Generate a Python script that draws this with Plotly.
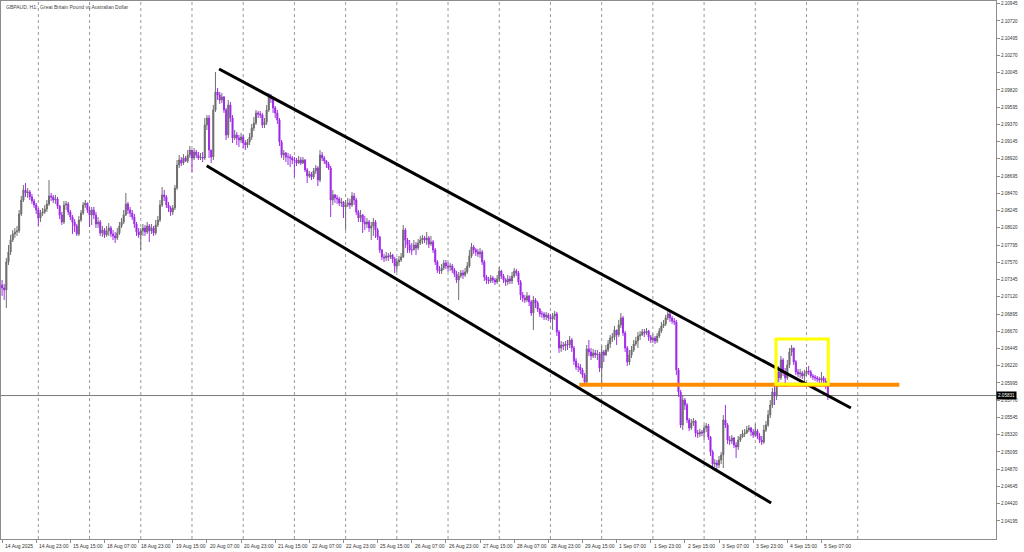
import plotly.graph_objects as go

# ---------------- data (GBPAUD H1) ----------------
first_open = 2.07274

closes = [
    2.07235, 2.07209, 2.07574, 2.07705, 2.07861, 2.07940, 2.07966, 2.07979, 2.08201, 2.08383,
    2.08514, 2.08475, 2.08488, 2.08423, 2.08370, 2.08318, 2.08253, 2.08148, 2.08214, 2.08227,
    2.08266, 2.08331, 2.08436, 2.08423, 2.08383, 2.08397, 2.08305, 2.08188, 2.08096, 2.08318,
    2.08331, 2.08227, 2.08161, 2.08096, 2.08044, 2.07940, 2.08122, 2.08214, 2.08318, 2.08344,
    2.08253, 2.08188, 2.08253, 2.08188, 2.08070, 2.08096, 2.07953, 2.07992, 2.07927, 2.07979,
    2.08018, 2.07940, 2.07914, 2.07888, 2.07953, 2.08044, 2.08096, 2.08188, 2.08331, 2.08253,
    2.08214, 2.08161, 2.08070, 2.07966, 2.07927, 2.07979, 2.08018, 2.07966, 2.08044, 2.07979,
    2.08018, 2.07953, 2.08057, 2.08122, 2.08318, 2.08449, 2.08423, 2.08318, 2.08279, 2.08227,
    2.08279, 2.08540, 2.08840, 2.08905, 2.08866, 2.08931, 2.08892, 2.08970, 2.09036, 2.08931,
    2.09010, 2.08970, 2.08931, 2.08944, 2.08931, 2.09362, 2.09453, 2.09036, 2.08944, 2.09558,
    2.09793, 2.09753, 2.09688, 2.09727, 2.09558, 2.09232, 2.09623, 2.09453, 2.09192, 2.09232,
    2.09192, 2.09166, 2.09205, 2.09127, 2.09101, 2.09140, 2.09205, 2.09323, 2.09388, 2.09519,
    2.09506, 2.09493, 2.09362, 2.09401, 2.09558, 2.09727, 2.09701, 2.09584, 2.09519, 2.09427,
    2.09140, 2.08970, 2.08997, 2.08944, 2.08944, 2.08931, 2.08905, 2.08905, 2.08866, 2.08905,
    2.08866, 2.08905, 2.08775, 2.08697, 2.08723, 2.08684, 2.08762, 2.08801, 2.08644, 2.08970,
    2.08931, 2.08892, 2.08853, 2.08801, 2.08383, 2.08449, 2.08410, 2.08397, 2.08344, 2.08357,
    2.08292, 2.08318, 2.08344, 2.08318, 2.08436, 2.08383, 2.08227, 2.08148, 2.08188, 2.08096,
    2.08070, 2.08096, 2.08018, 2.08044, 2.08096, 2.07992, 2.07901, 2.07731, 2.07640, 2.07627,
    2.07653, 2.07640, 2.07666, 2.07614, 2.07522, 2.07574, 2.07600, 2.07640, 2.07992, 2.07861,
    2.07796, 2.07731, 2.07731, 2.07796, 2.07757, 2.07822, 2.07861, 2.07888, 2.07861, 2.07888,
    2.07809, 2.07835, 2.07731, 2.07574, 2.07470, 2.07457, 2.07496, 2.07561, 2.07522, 2.07509,
    2.07522, 2.07470, 2.07418, 2.07339, 2.07392, 2.07431, 2.07405, 2.07444, 2.07522, 2.07653,
    2.07770, 2.07731, 2.07705, 2.07679, 2.07705, 2.07574, 2.07379, 2.07339, 2.07326, 2.07366,
    2.07339, 2.07313, 2.07353, 2.07457, 2.07392, 2.07339, 2.07313, 2.07353, 2.07326, 2.07392,
    2.07457, 2.07431, 2.07313, 2.07144, 2.07104, 2.07078, 2.07131, 2.07052, 2.06909, 2.07078,
    2.07039, 2.06961, 2.06896, 2.06896, 2.06857, 2.06883, 2.06844, 2.06830, 2.06870, 2.06896,
    2.06661, 2.06452, 2.06491, 2.06478, 2.06504, 2.06491, 2.06556, 2.06452, 2.06282, 2.06204,
    2.06204, 2.06165, 2.06100, 2.06008, 2.06439, 2.06400, 2.06348, 2.06387, 2.06361, 2.06374,
    2.06191, 2.06400, 2.06361, 2.06426, 2.06504, 2.06582, 2.06596, 2.06687, 2.06622, 2.06752,
    2.06844, 2.06648, 2.06452, 2.06269, 2.06361, 2.06426, 2.06504, 2.06543, 2.06609, 2.06622,
    2.06661, 2.06648, 2.06674, 2.06596, 2.06556, 2.06582, 2.06543, 2.06609, 2.06674, 2.06739,
    2.06765, 2.06844, 2.06896, 2.06844, 2.06804, 2.06791, 2.06165, 2.05878, 2.05447, 2.05773,
    2.05708, 2.05512, 2.05408, 2.05473, 2.05499, 2.05343, 2.05330, 2.05356, 2.05343, 2.05408,
    2.05434, 2.05290, 2.05095, 2.04938, 2.04951, 2.04925, 2.04990, 2.05056, 2.05512, 2.05447,
    2.05251, 2.05238, 2.05277, 2.05186, 2.05160, 2.05251, 2.05290, 2.05330, 2.05343, 2.05382,
    2.05408, 2.05356, 2.05317, 2.05369, 2.05303, 2.05251, 2.05225, 2.05382, 2.05447, 2.05577,
    2.05708, 2.05878, 2.05826, 2.06139, 2.06061, 2.06295, 2.06139, 2.06061, 2.06230, 2.06400,
    2.06452, 2.06269, 2.06139, 2.06113, 2.06126, 2.06087, 2.06113, 2.06152, 2.06139, 2.06087,
    2.06074, 2.06061, 2.06048, 2.06034, 2.06061, 2.06021, 2.05969, 2.05831,
]

highs = [
    2.07339, 2.07287, 2.07627, 2.07796, 2.07927, 2.07992, 2.08018, 2.08044, 2.08253, 2.08436,
    2.08579, 2.08605, 2.08540, 2.08514, 2.08462, 2.08397, 2.08344, 2.08279, 2.08253, 2.08279,
    2.08318, 2.08383, 2.08644, 2.08475, 2.08449, 2.08449, 2.08423, 2.08318, 2.08227, 2.08370,
    2.08370, 2.08357, 2.08253, 2.08188, 2.08135, 2.08070, 2.08175, 2.08253, 2.08357, 2.08383,
    2.08344, 2.08292, 2.08292, 2.08292, 2.08227, 2.08161, 2.08122, 2.08044, 2.08018, 2.08044,
    2.08083, 2.08044, 2.07992, 2.07966, 2.08018, 2.08096, 2.08148, 2.08253, 2.08475, 2.08357,
    2.08292, 2.08253, 2.08201, 2.08096, 2.08018, 2.08018, 2.08070, 2.08057, 2.08096, 2.08070,
    2.08070, 2.08044, 2.08122, 2.08175, 2.08383, 2.08553, 2.08514, 2.08449, 2.08357, 2.08305,
    2.08318, 2.08579, 2.08905, 2.08970, 2.08944, 2.08983, 2.08957, 2.09036, 2.09088, 2.09036,
    2.09062, 2.09036, 2.09010, 2.08997, 2.09010, 2.09453, 2.09492, 2.09492, 2.09036, 2.09623,
    2.10054, 2.09845, 2.09793, 2.09780, 2.09740, 2.09584, 2.09688, 2.09662, 2.09492, 2.09297,
    2.09271, 2.09232, 2.09258, 2.09232, 2.09166, 2.09179, 2.09258, 2.09375, 2.09466, 2.09558,
    2.09545, 2.09545, 2.09519, 2.09453, 2.09623, 2.09780, 2.09766, 2.09714, 2.09610, 2.09558,
    2.09453, 2.09166, 2.09036, 2.09010, 2.08997, 2.08983, 2.08957, 2.08944, 2.08931, 2.08957,
    2.08944, 2.08944, 2.08918, 2.08801, 2.08762, 2.08749, 2.08801, 2.08840, 2.08827, 2.09036,
    2.09010, 2.08957, 2.08905, 2.08879, 2.08827, 2.08514, 2.08462, 2.08449, 2.08423, 2.08410,
    2.08370, 2.08383, 2.08410, 2.08397, 2.08488, 2.08475, 2.08410, 2.08253, 2.08253, 2.08201,
    2.08175, 2.08148, 2.08122, 2.08096, 2.08148, 2.08122, 2.08018, 2.07914, 2.07744, 2.07679,
    2.07705, 2.07692, 2.07705, 2.07679, 2.07640, 2.07627, 2.07653, 2.07692, 2.08057, 2.08018,
    2.07888, 2.07861, 2.07822, 2.07861, 2.07835, 2.07874, 2.07914, 2.07927, 2.07914, 2.07966,
    2.07914, 2.07914, 2.07861, 2.07757, 2.07600, 2.07522, 2.07548, 2.07600, 2.07600, 2.07574,
    2.07561, 2.07548, 2.07496, 2.07457, 2.07444, 2.07470, 2.07470, 2.07496, 2.07574, 2.07731,
    2.07822, 2.07796, 2.07757, 2.07744, 2.07757, 2.07731, 2.07600, 2.07405, 2.07379, 2.07405,
    2.07392, 2.07366, 2.07405, 2.07509, 2.07470, 2.07418, 2.07366, 2.07405, 2.07392, 2.07444,
    2.07496, 2.07483, 2.07457, 2.07339, 2.07183, 2.07144, 2.07183, 2.07144, 2.07078, 2.07131,
    2.07104, 2.07065, 2.06974, 2.06935, 2.06922, 2.06922, 2.06909, 2.06896, 2.06909, 2.06935,
    2.06922, 2.06687, 2.06543, 2.06530, 2.06543, 2.06556, 2.06609, 2.06582, 2.06478, 2.06321,
    2.06256, 2.06243, 2.06191, 2.06126, 2.06491, 2.06556, 2.06452, 2.06439, 2.06426, 2.06426,
    2.06400, 2.06478, 2.06426, 2.06491, 2.06556, 2.06622, 2.06648, 2.06739, 2.06687, 2.06817,
    2.06909, 2.06870, 2.06674, 2.06478, 2.06426, 2.06478, 2.06556, 2.06596, 2.06661, 2.06674,
    2.06700, 2.06700, 2.06713, 2.06687, 2.06622, 2.06635, 2.06609, 2.06648, 2.06713, 2.06791,
    2.06817, 2.06883, 2.06935, 2.06922, 2.06870, 2.06844, 2.06817, 2.06191, 2.05904, 2.05839,
    2.05799, 2.05734, 2.05538, 2.05525, 2.05538, 2.05512, 2.05382, 2.05395, 2.05382, 2.05447,
    2.05473, 2.05460, 2.05303, 2.05121, 2.05003, 2.04990, 2.05043, 2.05095, 2.05577, 2.05708,
    2.05473, 2.05303, 2.05316, 2.05290, 2.05225, 2.05303, 2.05330, 2.05382, 2.05395, 2.05434,
    2.05447, 2.05421, 2.05395, 2.05460, 2.05395, 2.05343, 2.05303, 2.05447, 2.05499, 2.05643,
    2.05773, 2.05930, 2.05969, 2.06191, 2.06217, 2.06348, 2.06321, 2.06191, 2.06295, 2.06452,
    2.06491, 2.06426, 2.06295, 2.06178, 2.06178, 2.06152, 2.06165, 2.06204, 2.06217, 2.06165,
    2.06113, 2.06100, 2.06087, 2.06074, 2.06139, 2.06087, 2.06061, 2.05995,
]

lows = [
    2.07131, 2.07078, 2.06974, 2.07535, 2.07666, 2.07835, 2.07888, 2.07914, 2.07953, 2.08175,
    2.08357, 2.08423, 2.08410, 2.08383, 2.08331, 2.08279, 2.08201, 2.08044, 2.08096, 2.08175,
    2.08201, 2.08227, 2.08305, 2.08370, 2.08344, 2.08331, 2.08266, 2.08135, 2.08057, 2.08070,
    2.08253, 2.08188, 2.08122, 2.07940, 2.07966, 2.07914, 2.07914, 2.08096, 2.08188, 2.08279,
    2.08214, 2.08031, 2.08057, 2.08135, 2.08018, 2.08018, 2.07914, 2.07901, 2.07888, 2.07901,
    2.07914, 2.07901, 2.07861, 2.07822, 2.07861, 2.07927, 2.08018, 2.08070, 2.08175, 2.08201,
    2.08161, 2.08122, 2.08018, 2.07914, 2.07888, 2.07731, 2.07914, 2.07914, 2.07940, 2.07835,
    2.07940, 2.07914, 2.07927, 2.08031, 2.08096, 2.08292, 2.08370, 2.08279, 2.08227, 2.08175,
    2.08188, 2.08253, 2.08514, 2.08801, 2.08827, 2.08840, 2.08879, 2.08866, 2.08931, 2.08749,
    2.08905, 2.08931, 2.08905, 2.08905, 2.08879, 2.08905, 2.09297, 2.08931, 2.08866, 2.08905,
    2.09532, 2.09688, 2.09636, 2.09649, 2.09519, 2.09166, 2.09192, 2.09401, 2.09127, 2.09166,
    2.09101, 2.09075, 2.09127, 2.09062, 2.09036, 2.09062, 2.09101, 2.09166, 2.09284, 2.09362,
    2.09453, 2.09453, 2.09323, 2.09323, 2.09362, 2.09532, 2.09649, 2.09519, 2.09453, 2.09375,
    2.09088, 2.08931, 2.08905, 2.08879, 2.08840, 2.08814, 2.08853, 2.08683, 2.08827, 2.08853,
    2.08840, 2.08853, 2.08749, 2.08605, 2.08670, 2.08644, 2.08657, 2.08723, 2.08566, 2.08618,
    2.08892, 2.08853, 2.08801, 2.08775, 2.08161, 2.08318, 2.08344, 2.08331, 2.08305, 2.08292,
    2.08148, 2.07992, 2.08292, 2.08266, 2.08292, 2.08318, 2.08188, 2.08096, 2.08096, 2.07953,
    2.07992, 2.08018, 2.07966, 2.07861, 2.07914, 2.07888, 2.07861, 2.07692, 2.07600, 2.07574,
    2.07587, 2.07587, 2.07614, 2.07561, 2.07431, 2.07444, 2.07522, 2.07574, 2.07627, 2.07757,
    2.07692, 2.07692, 2.07666, 2.07731, 2.07666, 2.07731, 2.07796, 2.07809, 2.07822, 2.07796,
    2.07757, 2.07783, 2.07692, 2.07535, 2.07431, 2.07418, 2.07418, 2.07470, 2.07483, 2.07444,
    2.07457, 2.07431, 2.07379, 2.07300, 2.07078, 2.07366, 2.07353, 2.07379, 2.07418, 2.07496,
    2.07627, 2.07679, 2.07653, 2.07640, 2.07627, 2.07535, 2.07326, 2.07287, 2.07287, 2.07300,
    2.07300, 2.07274, 2.07287, 2.07313, 2.07353, 2.07300, 2.07261, 2.07274, 2.07287, 2.07287,
    2.07366, 2.07392, 2.07274, 2.07078, 2.07052, 2.07039, 2.07052, 2.07000, 2.06870, 2.06687,
    2.06974, 2.06922, 2.06857, 2.06844, 2.06817, 2.06817, 2.06804, 2.06791, 2.06687, 2.06817,
    2.06609, 2.06387, 2.06400, 2.06426, 2.06413, 2.06426, 2.06452, 2.06400, 2.06230, 2.06165,
    2.06139, 2.06113, 2.06061, 2.05969, 2.05969, 2.06348, 2.06295, 2.06321, 2.06321, 2.06295,
    2.06139, 2.05956, 2.06269, 2.06348, 2.06400, 2.06452, 2.06530, 2.06556, 2.06491, 2.06596,
    2.06713, 2.06609, 2.06400, 2.06217, 2.06230, 2.06321, 2.06400, 2.06478, 2.06452, 2.06556,
    2.06609, 2.06596, 2.06622, 2.06543, 2.06517, 2.06517, 2.06504, 2.06517, 2.06582, 2.06648,
    2.06713, 2.06739, 2.06817, 2.06791, 2.06765, 2.06752, 2.06100, 2.05813, 2.05408, 2.05382,
    2.05643, 2.05473, 2.05369, 2.05382, 2.05434, 2.05290, 2.05277, 2.05290, 2.05303, 2.05251,
    2.05356, 2.05251, 2.05043, 2.04886, 2.04899, 2.04873, 2.04886, 2.04938, 2.04886, 2.05408,
    2.05199, 2.05186, 2.05199, 2.05147, 2.05016, 2.05121, 2.05225, 2.05277, 2.05290, 2.05330,
    2.05356, 2.05303, 2.05277, 2.05290, 2.05264, 2.05212, 2.05186, 2.05199, 2.05356, 2.05421,
    2.05538, 2.05669, 2.05708, 2.05773, 2.06008, 2.06034, 2.06087, 2.05943, 2.06034, 2.06191,
    2.06348, 2.06230, 2.06100, 2.06074, 2.06061, 2.06048, 2.05943, 2.06087, 2.06100, 2.06061,
    2.06034, 2.06021, 2.06008, 2.05982, 2.05995, 2.05982, 2.05917, 2.05773,
]

# time-axis labels (one every 16 H1 bars, weekend gaps skipped as in the terminal)
time_labels = [
    "14 Aug 2025", "14 Aug 23:00", "15 Aug 15:00", "18 Aug 07:00", "18 Aug 23:00",
    "19 Aug 15:00", "20 Aug 07:00", "20 Aug 23:00", "21 Aug 15:00", "22 Aug 07:00",
    "22 Aug 23:00", "25 Aug 15:00", "26 Aug 07:00", "26 Aug 23:00", "27 Aug 15:00",
    "28 Aug 07:00", "28 Aug 23:00", "29 Aug 15:00", "1 Sep 07:00", "1 Sep 23:00",
    "2 Sep 15:00", "3 Sep 07:00", "3 Sep 23:00", "4 Sep 15:00", "5 Sep 07:00",
]
label_step = 16
first_midnight_bar = 17      # 15 Aug 00:00 (first bar is 14 Aug 07:00)
day_count = 17

price_ticks = [
    2.04195, 2.04420, 2.04645, 2.04870, 2.05095, 2.05320, 2.05545, 2.05770, 2.05995,
    2.06220, 2.06445, 2.06670, 2.06895, 2.07120, 2.07345, 2.07570, 2.07795, 2.08020,
    2.08245, 2.08470, 2.08695, 2.08920, 2.09145, 2.09370, 2.09595, 2.09820, 2.10045,
    2.10270, 2.10495, 2.10720, 2.10945,
]
current_price = 2.05831

# drawn objects (bar index, price)
channel_upper = [(101.7, 2.10093), (397.8, 2.05669)]
channel_lower = [(95.9, 2.08831), (360.4, 2.04429)]
support_level = [(270.5, 2.05971), (420.5, 2.05971)]
box_zone = [(362.7, 2.06569), (387.2, 2.05978)]

# ---------------- build ----------------
n = min(len(closes), len(highs), len(lows))
closes, highs, lows = closes[:n], highs[:n], lows[:n]
bars = list(range(n))
opens = [first_open] + closes[:-1]
highs = [max(h, o, c) for h, o, c in zip(highs, opens, closes)]
lows = [min(l, o, c) for l, o, c in zip(lows, opens, closes)]

label_bars = [i * label_step for i in range(len(time_labels))]
grid_bars = [first_midnight_bar + 24 * k for k in range(day_count)]

X_MIN, X_MAX = -0.5, 465.8
Y_MIN, Y_MAX = 2.03959, 2.10980

fig = go.Figure()
fig.add_trace(go.Candlestick(
    x=bars, open=opens, high=highs, low=lows, close=closes,
    increasing=dict(line=dict(color="#6e6e6e", width=1), fillcolor="#5e5e5e"),
    decreasing=dict(line=dict(color="#a22ee8", width=1), fillcolor="#8f10e0"),
    whiskerwidth=0, showlegend=False, hoverinfo="skip",
))

shapes = []
for gb in grid_bars:
    shapes.append(dict(type="line", xref="x", yref="paper", x0=gb, x1=gb, y0=0, y1=1,
                       line=dict(color="#9a9a9a", width=1, dash="dot"), layer="below"))
shapes.append(dict(type="line", xref="paper", yref="y", x0=0, x1=1,
                   y0=current_price, y1=current_price,
                   line=dict(color="#7a7a7a", width=1), layer="below"))
for seg in (channel_upper, channel_lower):
    shapes.append(dict(type="line", xref="x", yref="y", x0=seg[0][0], y0=seg[0][1],
                       x1=seg[1][0], y1=seg[1][1], line=dict(color="black", width=3)))
shapes.append(dict(type="line", xref="x", yref="y",
                   x0=support_level[0][0], y0=support_level[0][1],
                   x1=support_level[1][0], y1=support_level[1][1],
                   line=dict(color="#ff8c00", width=4)))
shapes.append(dict(type="rect", xref="x", yref="y",
                   x0=box_zone[0][0], y0=box_zone[0][1], x1=box_zone[1][0], y1=box_zone[1][1],
                   line=dict(color="#ffff00", width=3), fillcolor="rgba(0,0,0,0)"))

annotations = []
for b, t in zip(label_bars, time_labels):
    annotations.append(dict(x=b + 0.4, y=-0.0125, xref="x", yref="paper", text=t,
                            showarrow=False, xanchor="left", yanchor="middle",
                            font=dict(size=5, color="#333333", family="Liberation Sans")))
annotations.append(dict(x=0.003, y=0.998, xref="paper", yref="paper",
                        text="GBPAUD, H1:  Great Britain Pound vs Australian Dollar",
                        showarrow=False, xanchor="left", yanchor="top",
                        font=dict(size=5, color="#444444", family="Liberation Sans")))
annotations.append(dict(x=1, y=current_price, xref="paper", yref="y",
                        text="%.5f" % current_price, showarrow=False,
                        xanchor="left", yanchor="middle", xshift=0,
                        bgcolor="black", borderpad=1,
                        font=dict(size=4.6, color="white", family="Liberation Sans")))

fig.update_layout(
    width=1024, height=552,
    margin=dict(l=1, r=28, t=1, b=13),
    paper_bgcolor="white", plot_bgcolor="white",
    shapes=shapes, annotations=annotations,
    showlegend=False,
    xaxis=dict(range=[X_MIN, X_MAX], rangeslider=dict(visible=False),
               showgrid=False, zeroline=False,
               showline=True, linecolor="#8c8c8c", linewidth=1, mirror=True,
               tickvals=label_bars, ticktext=["" for _ in label_bars],
               ticks="outside", ticklen=3, tickcolor="#8c8c8c"),
    yaxis=dict(range=[Y_MIN, Y_MAX], side="right",
               showgrid=False, zeroline=False,
               showline=True, linecolor="#8c8c8c", linewidth=1, mirror=True,
               tickvals=price_ticks, ticktext=["%.5f" % v for v in price_ticks],
               ticks="outside", ticklen=3, tickcolor="#8c8c8c",
               tickfont=dict(size=4.6, color="#333333", family="Liberation Sans")),
)

fig.write_html("out.html", config={"displayModeBar": False},
               post_script="document.body.style.margin='0';")
